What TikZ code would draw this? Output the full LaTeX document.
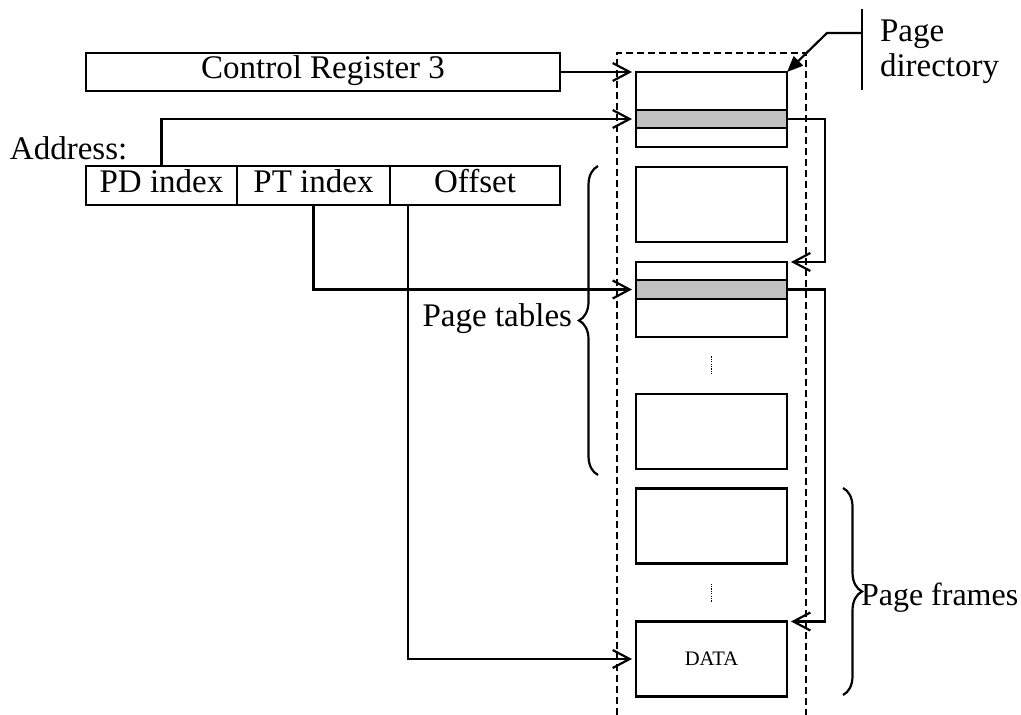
\documentclass[tikz,border=0pt]{standalone}
\usepackage{fontspec}
\setmainfont{Liberation Serif}
\usetikzlibrary{arrows.meta,decorations.pathreplacing,calc}
\definecolor{slotgray}{RGB}{192,192,192}

\begin{document}
\begin{tikzpicture}[x=0.5pt, y=-0.5pt, line width=1.1pt,
  every node/.style={inner sep=0pt, outer sep=0pt},
  bigtext/.style={font=\fontsize{16.5}{17.5}\selectfont},
  regbox/.style={draw, bigtext, text height=0.66em, text depth=0pt},
  memblock/.style={draw, minimum width=75.5pt, minimum height=37.5pt},
  slot/.style={draw, fill=slotgray, minimum width=75.5pt},
  link/.style={-{Straight Barb[length=8.5pt,width=9pt]}, shorten >=2pt},
  pointer/.style={-{Triangle[length=8pt,width=6.5pt]}},
  region/.style={dash pattern=on 3.5pt off 2pt},
  gap/.style={line width=0.5pt, dash pattern=on 0.6pt off 0.6pt},
  curly/.style={decorate, decoration={brace, amplitude=9.5pt}}]

\useasboundingbox (0,0) rectangle (1021,715);

% dashed outline of physical memory (open at the bottom)
\draw[region] (617,715) -- (617,53) -- (806,53) -- (806,715);

% CR3 and the linear address
\node[regbox, minimum width=237pt, minimum height=19pt] (cr3) at (323,72) {Control Register 3};
\node[bigtext, anchor=base west] (addr) at (10,160) {Address:};
\node[regbox, minimum width=75.5pt, minimum height=19.5pt] (pdi) at (161.5,185.5) {PD index};
\node[regbox, minimum width=76.5pt, minimum height=19.5pt] (pti) at (313.5,185.5) {PT index};
\node[regbox, minimum width=85pt, minimum height=19.5pt] (off) at (475,185.5) {Offset};

% page directory
\node[memblock] (pd) at (711.5,109.5) {};
\node[slot, minimum height=9pt] (pdslot) at (711.5,119) {};

% page tables
\node[memblock] (pt1) at (711.5,204.5) {};
\node[memblock] (pt2) at (711.5,299.5) {};
\node[slot, minimum height=9.5pt] (ptslot) at (711.5,289.5) {};
\node[memblock] (pt3) at (711.5,431.5) {};

% page frames
\node[memblock] (pf1) at (711.5,526) {};
\node[memblock, font=\fontsize{10.3}{12}\selectfont] (data) at (711.5,659) {DATA};

% elided entries
\coordinate (gapA) at ($(pt2.south)!0.5!(pt3.north)$);
\coordinate (gapB) at ($(pf1.south)!0.5!(data.north)$);
\draw[gap] ([yshift=4.5pt]gapA) -- ([yshift=-4.5pt]gapA);
\draw[gap] ([yshift=4.5pt]gapB) -- ([yshift=-4.5pt]gapB);

% translation path
\draw[link] (cr3.east) -- (pd.north west);
\draw[link] (pdi.north) |- (pdslot.west);
\draw[link] (pdslot.east) -- ++(38,0) |- (pt2.north east);
\draw[link] (pti.south) |- (ptslot.west);
\draw[link] (ptslot.east) -- ++(38,0) |- (data.north east);
\draw[link] ([xshift=9pt]off.south west) |- (data.west);

% page directory label
\coordinate (tickT) at (862,9);
\coordinate (tickB) at (862,90);
\coordinate (tickM) at (862,33);
\coordinate (bend) at (827,33);
\draw (tickT) -- (tickB);
\draw[pointer] (tickM) -- (bend) -- (pd.north east);
\node[bigtext, anchor=north west, align=left] (pdlab) at (880,20) {Page\\directory};

% braces
\draw[curly] (598,475) -- (598,166);
\node[bigtext, anchor=base east] (ptlab) at (572,327) {Page tables};
\draw[curly] (843,488) -- (843,695);
\node[font=\fontsize{16}{17.5}\selectfont, anchor=base west] (pflab) at (861,605) {Page frames};
\end{tikzpicture}
\end{document}
